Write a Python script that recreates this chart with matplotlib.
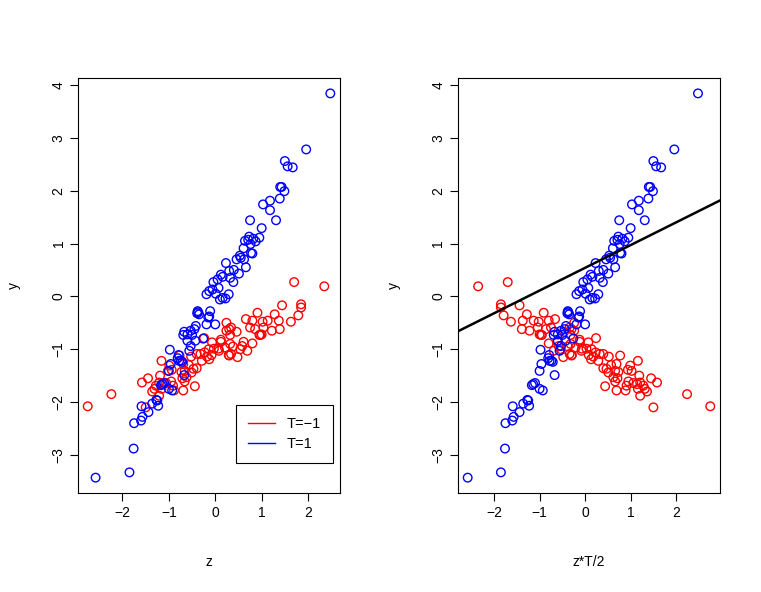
import numpy as np
import matplotlib.pyplot as plt
from matplotlib.lines import Line2D

plt.rcParams['font.family'] = ['Liberation Sans', 'DejaVu Sans']

# T = -1 group (z, y)
red_z = [2.35, 1.70, 1.85, 1.85, 1.79, 1.44, 1.63, 1.28, 1.37, 1.39, 1.22, 1.13,
         1.02, 0.91, 0.80, 0.66, 1.04, 1.00, 0.97, 0.86, 0.75, 0.80, 0.69, 0.61,
         0.54, 0.38, 0.34, 0.21, 0.12, 0.07, 0.32, 0.46, 0.24, 0.34, 0.24, 0.95,
         0.48, 0.30, 0.58,
         0.30, 0.32, 0.29, 0.12, 0.08, -0.07, -0.03, -0.24, -0.14, -0.08, -0.18,
         -0.23, -0.32, -0.13, -0.29, -0.40, -0.52, -0.77, -0.57, -0.69, -0.47,
         -0.40, -0.51, -0.66, -0.73, -0.62, -0.71, -0.66, -0.99, -0.94, -1.02,
         -1.16, -1.19, -0.95, -1.06, -1.14, -1.21, -1.28, -0.91, -1.16, -1.31,
         -1.36, -1.21, -0.89, -0.69, -0.44, -1.45, -1.58, -1.50, -2.24, -2.75]
red_y = [0.19, 0.27, -0.15, -0.21, -0.36, -0.17, -0.48, -0.34, -0.46, -0.62, -0.65, -0.46,
         -0.48, -0.31, -0.46, -0.43, -0.59, -0.72, -0.73, -0.62, -0.59, -0.89, -1.03, -0.86,
         -1.00, -0.95, -1.09, -0.97, -0.82, -0.99, -0.73, -0.67, -0.65, -0.59, -0.50, -0.73,
         -1.15, -1.12, -0.94,
         -0.62, -0.90, -1.11, -0.86, -1.03, -0.87, -0.99, -0.79, -1.00, -1.11, -1.14,
         -1.06, -1.09, -1.19, -1.22, -1.09, -1.14, -1.12, -1.30, -1.28, -1.37,
         -1.36, -1.44, -1.41, -1.43, -1.53, -1.55, -1.61, -1.31, -1.39, -1.41,
         -1.22, -1.50, -1.61, -1.64, -1.66, -1.63, -1.69, -1.69, -1.75, -1.75,
         -1.80, -1.88, -1.78, -1.78, -1.70, -1.55, -1.63, -2.10, -1.85, -2.08]

# T = 1 group (z, y)
blue_z = [2.48, 1.96, 1.50, 1.56, 1.67, 1.40, 1.43, 1.49, 1.39, 1.18, 1.03, 1.18,
          1.31, 0.75, 1.00, 0.73, 0.95, 0.64, 0.87, 0.76, 0.71, 0.82, 0.61, 0.77,
          0.80, 0.53, 0.46, 0.55, 0.62, 0.23, 0.66, 0.40, 0.30, 0.12, 0.51,
          0.39, 0.32, 0.16, 0.05, -0.04, 0.07, -0.06, -0.13, 0.01, 0.29, 0.16,
          0.10, 0.22, -0.19,
          -0.37, -0.39, -0.35, -0.38, -0.11, -0.13, -0.15, -0.19, 0.00,
          -0.42, -0.45, -0.53, -0.67, -0.69, -0.60, -0.50, -0.60, -0.26, -0.43,
          -0.53, -0.56, -0.98, -0.79, -0.74, -0.71, -0.78, -0.96, -1.00, -0.67,
          -1.14, -1.17, -1.10, -1.00, -1.27, -1.25, -1.23, -1.36, -1.59, -1.44,
          -1.57, -1.75, -1.60, -1.76, -1.85, -2.58, -0.81, -0.93]
blue_y = [3.84, 2.78, 2.56, 2.46, 2.44, 2.07, 2.07, 1.99, 1.85, 1.81, 1.74, 1.63,
          1.44, 1.44, 1.29, 1.13, 1.11, 1.05, 1.04, 0.99, 1.07, 1.09, 0.91, 0.82,
          0.81, 0.77, 0.70, 0.73, 0.70, 0.63, 0.55, 0.50, 0.48, 0.41, 0.43,
          0.27, 0.35, 0.37, 0.32, 0.27, 0.16, 0.13, 0.10, 0.05, 0.04, -0.03,
          -0.06, -0.04, 0.04,
          -0.30, -0.32, -0.34, -0.28, -0.28, -0.38, -0.40, -0.53, -0.53,
          -0.56, -0.62, -0.65, -0.67, -0.73, -0.72, -0.73, -0.84, -0.80, -0.84,
          -0.94, -1.03, -1.01, -1.11, -1.22, -1.24, -1.22, -1.28, -1.41, -1.49,
          -1.66, -1.68, -1.64, -1.75, -1.96, -1.97, -2.07, -2.03, -2.08, -2.19,
          -2.28, -2.40, -2.35, -2.88, -3.33, -3.43, -1.17, -1.78]

# fitted line in the right panel
line_a = 0.54
line_b = 0.43

red_z = np.array(red_z)
blue_z = np.array(blue_z)

fig = plt.figure(figsize=(7.61, 5.92), dpi=100)
ax1 = fig.add_axes([0.1025, 0.1672, 0.3443, 0.701])
ax2 = fig.add_axes([0.6018, 0.1672, 0.3443, 0.701])

def style(ax, xlab):
    ax.margins(0.04)
    ax.set_xticks([-2, -1, 0, 1, 2])
    ax.set_yticks(range(-3, 5))
    ax.tick_params(length=6, width=0.8, labelsize=10, pad=3)
    for lab in ax.get_yticklabels():
        lab.set_rotation(90)
        lab.set_va('center')
    for s in ax.spines.values():
        s.set_linewidth(0.8)
    ax.set_xlabel(xlab, fontsize=10, va='center')
    ax.set_ylabel('y', fontsize=10, va='center')
    ax.xaxis.set_label_coords(0.5, -0.166)
    ax.yaxis.set_label_coords(-0.244, 0.5)

ax1.scatter(red_z, red_y, s=38, facecolors='none', edgecolors='#ff0000', linewidths=1)
ax1.scatter(blue_z, blue_y, s=38, facecolors='none', edgecolors='#0000ff', linewidths=1)
style(ax1, 'z')
handles = [Line2D([], [], color='#ff0000', lw=1), Line2D([], [], color='#0000ff', lw=1)]
leg = ax1.legend(handles, ['T=\u22121', 'T=1'], loc='lower right',
                 bbox_to_anchor=(0.973, 0.072), borderaxespad=0, fancybox=False,
                 edgecolor='black', framealpha=1, fontsize=10.5, handlelength=1.9,
                 borderpad=0.8, labelspacing=0.45, handletextpad=0.8)
leg.get_frame().set_linewidth(0.8)

ax2.scatter(-red_z, red_y, s=38, facecolors='none', edgecolors='#ff0000', linewidths=1)
ax2.scatter(blue_z, blue_y, s=38, facecolors='none', edgecolors='#0000ff', linewidths=1)
style(ax2, 'z*T/2')
ax2.axline((0, line_a), slope=line_b, color='black', lw=1.8)

plt.savefig('out.png', dpi=100)
